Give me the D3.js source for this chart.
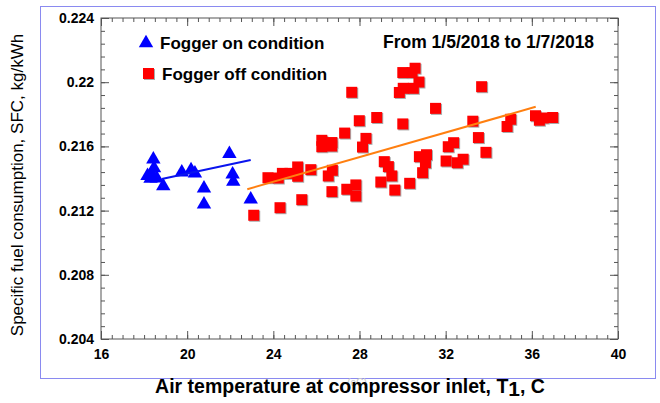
<!DOCTYPE html>
<html>
<head>
<meta charset="utf-8">
<script src="https://cdn.jsdelivr.net/npm/d3@7"></script>
<style>
  body { margin: 0; background: #fff; }
  svg { font-family: "Liberation Sans", Arial, sans-serif; }
</style>
</head>
<body>
<script>
// fogger on (blue triangles): air temperature, SFC
var onTemp = [18.43, 18.46, 18.35, 18.30, 18.59, 18.16, 18.89, 19.75, 20.18, 20.36, 20.78, 20.78, 21.96, 22.11, 22.14, 22.95];
var onSfc  = [0.2152, 0.21465, 0.21432, 0.2140, 0.21401, 0.21416, 0.21353, 0.21439, 0.21453, 0.21432, 0.21339, 0.21239, 0.21553, 0.21426, 0.2138, 0.2127];

// fogger off (red squares)
var offTemp = [23.09, 24.31, 25.32, 23.75, 24.23, 24.42, 24.77, 25.13, 25.13, 25.74,
  26.55, 26.74, 26.72, 27.41, 27.83, 27.83, 26.25, 26.72, 26.25, 26.71,
  28.14, 28.3, 27.31, 27.99, 28.8, 27.64, 30.01, 30.44, 30.58, 30.76,
  30.03, 29.85, 30.5, 31.53, 30.01, 29.15, 29.34, 29.5, 28.99, 29.64,
  30.33, 30.93, 30.78, 31.11, 31.06, 32.02, 32.12, 32.37, 32.54, 32.81,
  33.26, 33.52, 33.87, 33.67, 34.85, 35.02, 36.17, 36.35, 36.53, 36.97];
var offSfc = [0.21171, 0.21218, 0.21268, 0.21405, 0.21403, 0.21432, 0.21432, 0.21472, 0.21414, 0.21455,
  0.21416, 0.21451, 0.21318, 0.21333, 0.2136, 0.21291, 0.21638, 0.21624, 0.21598, 0.21602,
  0.21596, 0.2165, 0.21683, 0.2176, 0.2178, 0.21937, 0.2206, 0.2206, 0.22087, 0.22001,
  0.21962, 0.21936, 0.21962, 0.21837, 0.2174, 0.21505, 0.21474, 0.21416, 0.21378, 0.21328,
  0.2137, 0.21436, 0.21536, 0.21548, 0.21498, 0.21509, 0.21598, 0.21623, 0.21498, 0.2152,
  0.21757, 0.21655, 0.21563, 0.21972, 0.21724, 0.21769, 0.21791, 0.21763, 0.21777, 0.2178];

// fitted lines (end points)
var onFitTemp = [18.82, 22.95];
var onFitSfc  = [0.21397, 0.21515];
var offFitTemp = [22.79, 36.18];
var offFitSfc  = [0.21333, 0.21847];

var xTicks = [16, 20, 24, 28, 32, 36, 40];
var yTicks = [0.204, 0.208, 0.212, 0.216, 0.22, 0.224];

var W = 660, H = 403;
var svg = d3.select("body").append("svg")
  .attr("width", W)
  .attr("height", H);

// outer frame
svg.append("rect")
  .attr("x", 40.5).attr("y", 6.5)
  .attr("width", 615).attr("height", 372)
  .attr("fill", "none")
  .attr("stroke", "#8a8af0");

var pLeft = 101, pRight = 618, pTop = 18, pBottom = 339;
var x = d3.scaleLinear().domain([16, 40]).range([pLeft, pRight]);
var y = d3.scaleLinear().domain([0.204, 0.224]).range([pBottom, pTop]);

var minorX = d3.range(16, 40.01, 0.5);
var minorY = d3.range(0, 26).map(function(i) { return 0.204 + i * 0.0008; });

// minor ticks on all sides
function minor(axis, vals, tx) {
  var g = svg.append("g")
    .attr("transform", tx)
    .call(axis.tickValues(vals).tickFormat("").tickSizeInner(-4).tickSizeOuter(0));
  g.select(".domain").remove();
  g.selectAll("line").attr("stroke", "#555");
}
minor(d3.axisBottom(x), minorX, "translate(0," + pBottom + ")");
minor(d3.axisTop(x), minorX, "translate(0," + pTop + ")");
minor(d3.axisLeft(y), minorY, "translate(" + pLeft + ",0)");
minor(d3.axisRight(y), minorY, "translate(" + pRight + ",0)");

// major ticks
var gx = svg.append("g")
  .attr("transform", "translate(0," + pBottom + ")")
  .call(d3.axisBottom(x).tickValues(xTicks).tickSizeInner(-8).tickSizeOuter(0).tickPadding(10));
var gy = svg.append("g")
  .attr("transform", "translate(" + pLeft + ",0)")
  .call(d3.axisLeft(y).tickValues(yTicks).tickSizeInner(-8).tickSizeOuter(0).tickPadding(7)
    .tickFormat(function(d) { return +d.toFixed(3); }));
var gxt = svg.append("g")
  .attr("transform", "translate(0," + pTop + ")")
  .call(d3.axisTop(x).tickValues(xTicks).tickSizeInner(-8).tickSizeOuter(0).tickFormat(""));
var gyr = svg.append("g")
  .attr("transform", "translate(" + pRight + ",0)")
  .call(d3.axisRight(y).tickValues(yTicks).tickSizeInner(-8).tickSizeOuter(0).tickFormat(""));

[gx, gy, gxt, gyr].forEach(function(g) {
  g.select(".domain").remove();
  g.selectAll("line").attr("stroke", "#555");
  g.selectAll("text")
    .attr("fill", "#000")
    .style("font-size", "14px")
    .style("font-weight", "bold")
    .style("font-family", "'Liberation Sans', Arial, sans-serif");
});

// plot box
svg.append("rect")
  .attr("x", pLeft).attr("y", pTop)
  .attr("width", pRight - pLeft).attr("height", pBottom - pTop)
  .attr("fill", "none")
  .attr("stroke", "#555");

// red squares with a light shadow
var offData = offTemp.map(function(t, i) { return [t, offSfc[i]]; });
svg.append("g").selectAll("rect")
  .data(offData).enter()
  .append("rect")
  .attr("x", function(d) { return x(d[0]) - 4.5; })
  .attr("y", function(d) { return y(d[1]) - 4.5; })
  .attr("width", 11).attr("height", 11)
  .attr("fill", "#aaa");
svg.append("g").selectAll("rect")
  .data(offData).enter()
  .append("rect")
  .attr("x", function(d) { return x(d[0]) - 5.5; })
  .attr("y", function(d) { return y(d[1]) - 5.5; })
  .attr("width", 11).attr("height", 11)
  .attr("fill", "#ff0000");

// blue triangles
var onData = onTemp.map(function(t, i) { return [t, onSfc[i]]; });
var tri = d3.symbol().type(d3.symbolTriangle).size(90);
svg.append("g").selectAll("path")
  .data(onData).enter()
  .append("path")
  .attr("d", tri)
  .attr("transform", function(d) { return "translate(" + x(d[0]) + "," + y(d[1]) + ")"; })
  .attr("fill", "#0000ff");

// fit lines
svg.append("line")
  .attr("x1", x(onFitTemp[0])).attr("y1", y(onFitSfc[0]))
  .attr("x2", x(onFitTemp[1])).attr("y2", y(onFitSfc[1]))
  .attr("stroke", "#0a14ee").attr("stroke-width", 2);
svg.append("line")
  .attr("x1", x(offFitTemp[0])).attr("y1", y(offFitSfc[0]))
  .attr("x2", x(offFitTemp[1])).attr("y2", y(offFitSfc[1]))
  .attr("stroke", "#ff7f10").attr("stroke-width", 2);

// legend
svg.append("path")
  .attr("d", tri)
  .attr("transform", "translate(146,43)")
  .attr("fill", "#0000ff");
svg.append("text")
  .attr("x", 160).attr("y", 49)
  .style("font-size", "17px").style("font-weight", "bold")
  .text("Fogger on condition");
svg.append("rect")
  .attr("x", 144).attr("y", 69).attr("width", 11).attr("height", 11)
  .attr("fill", "#aaa");
svg.append("rect")
  .attr("x", 143).attr("y", 68).attr("width", 11).attr("height", 11)
  .attr("fill", "#ff0000");
svg.append("text")
  .attr("x", 162).attr("y", 80)
  .style("font-size", "17px").style("font-weight", "bold")
  .text("Fogger off condition");
svg.append("text")
  .attr("x", 383).attr("y", 48)
  .style("font-size", "17.5px").style("font-weight", "bold")
  .text("From 1/5/2018 to 1/7/2018");

// axis titles
svg.append("text")
  .attr("transform", "translate(23,185) rotate(-90)")
  .attr("text-anchor", "middle")
  .style("font-size", "17px")
  .text("Specific fuel consumption, SFC, kg/kWh");

svg.append("text")
  .attr("x", 357).attr("y", 386)
  .attr("text-anchor", "middle")
  .attr("fill", "#c8c8c8")
  .style("font-size", "10px")
  .text("(oC)");

var xt = svg.append("text")
  .attr("x", 350).attr("y", 393)
  .attr("text-anchor", "middle")
  .style("font-size", "19.5px").style("font-weight", "bold");
xt.append("tspan").text("Air temperature at compressor inlet, T");
xt.append("tspan").attr("dy", 3).style("font-size", "21px").text("1");
xt.append("tspan").attr("dy", -3).text(", C");
</script>
</body>
</html>
